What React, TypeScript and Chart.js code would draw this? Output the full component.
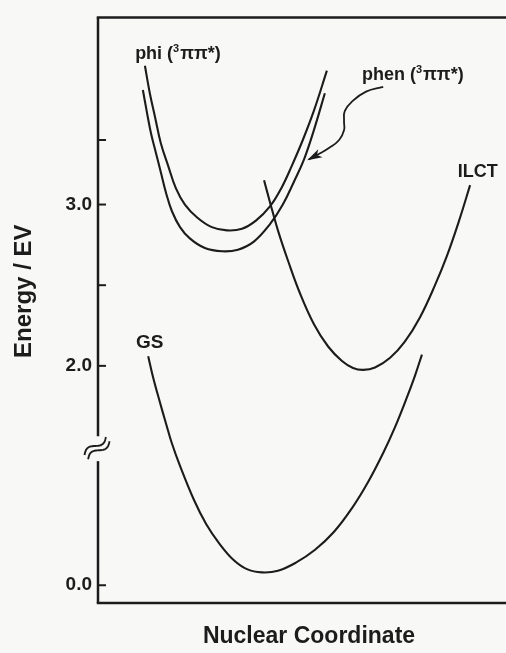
import { useEffect, useRef } from 'react';
import { Chart, registerables, LinearScale } from 'chart.js';

const FONT = '"Liberation Sans", Arial, Helvetica, sans-serif';
const INK = '#1c1c1c';
const PAPER = '#f8f8f7';

// Nuclear coordinate (arbitrary units, 0–10 across the plot) and energy in eV.
const PHI_X = [1.15, 1.27, 1.40, 1.54, 1.72, 1.91, 2.13, 2.43, 2.79, 3.16, 3.53, 3.87, 4.22, 4.49, 4.75, 5.02, 5.29, 5.61];
const PHI_E = [3.86, 3.69, 3.54, 3.38, 3.24, 3.10, 3.00, 2.92, 2.86, 2.84, 2.85, 2.90, 2.99, 3.10, 3.24, 3.40, 3.58, 3.83];

const PHEN_X = [1.10, 1.20, 1.30, 1.42, 1.54, 1.67, 1.81, 2.01, 2.25, 2.62, 3.04, 3.43, 3.82, 4.22, 4.53, 4.80, 5.05, 5.29, 5.56];
const PHEN_E = [3.71, 3.57, 3.44, 3.32, 3.20, 3.07, 2.96, 2.86, 2.79, 2.73, 2.71, 2.72, 2.77, 2.88, 3.00, 3.14, 3.28, 3.46, 3.69];

const ILCT_X = [4.07, 4.22, 4.41, 4.66, 4.95, 5.29, 5.64, 5.98, 6.25, 6.50, 6.79, 7.16, 7.52, 7.89, 8.26, 8.55, 8.85, 9.12];
const ILCT_E = [3.15, 3.01, 2.84, 2.65, 2.45, 2.26, 2.12, 2.03, 1.987, 1.975, 1.99, 2.05, 2.15, 2.30, 2.50, 2.68, 2.90, 3.12];

const GS_X = [1.23, 1.35, 1.50, 1.67, 1.81, 2.01, 2.35, 2.65, 2.97, 3.31, 3.65, 4.02, 4.41, 4.85, 5.32, 5.78, 6.23, 6.62, 6.99, 7.28, 7.55, 7.77, 7.94];
const GS_E = [2.06, 1.93, 1.79, 1.64, 1.52, 0.74, 0.53, 0.38, 0.26, 0.16, 0.10, 0.08, 0.09, 0.14, 0.22, 0.33, 0.48, 0.64, 0.82, 1.62, 1.79, 1.94, 2.07];

// Wavy pointer from the "phen" label to its curve.
const ARROW_X = [6.99, 6.57, 6.23, 6.05, 6.03, 6.03, 5.91, 5.66, 5.39, 5.17];
const ARROW_E = [3.73, 3.70, 3.64, 3.58, 3.52, 3.46, 3.40, 3.35, 3.31, 3.28];

const Y_TICKS = [0, 2.0, 2.5, 3.0, 3.4];
const Y_TICK_LABELS = ['0.0', '2.0', '', '3.0', ''];
const Y_MIN = -0.11;
const Y_MAX = 4.16;

// The energy axis is broken between these two values.
const BREAK_LO = 0.85;
const BREAK_HI = 1.49;
const BREAK_GAP = BREAK_HI - BREAK_LO;

const toDisplay = (v: number) => (v <= BREAK_LO ? v : v >= BREAK_HI ? v - BREAK_GAP : BREAK_LO);
const fromDisplay = (d: number) => (d <= BREAK_LO ? d : d + BREAK_GAP);

class BrokenLinearScale extends LinearScale {
  static id = 'brokenLinear';
  determineDataLimits() {
    super.determineDataLimits();
    this.min = toDisplay(this.min);
    this.max = toDisplay(this.max);
  }
  getPixelForValue(value: number) {
    return super.getPixelForValue(toDisplay(value));
  }
  getValueForPixel(pixel: number) {
    return fromDisplay(super.getValueForPixel(pixel));
  }
}

Chart.register(...registerables, BrokenLinearScale);

type Part = { text: string; sup?: boolean };
const LABELS: { parts: Part[]; x: number; e: number; size: number }[] = [
  { parts: [{ text: 'phi (' }, { text: '3', sup: true }, { text: 'ππ*)' }], x: 0.91, e: 3.9, size: 18 },
  { parts: [{ text: 'phen (' }, { text: '3', sup: true }, { text: 'ππ*)' }], x: 6.47, e: 3.77, size: 18 },
  { parts: [{ text: 'ILCT' }], x: 8.82, e: 3.17, size: 18 },
  { parts: [{ text: 'GS' }], x: 0.93, e: 2.11, size: 19 },
];

const pts = (xs: number[], es: number[]) => xs.map((x, i) => ({ x, y: es[i] }));

function drawRich(ctx: CanvasRenderingContext2D, parts: Part[], x: number, y: number, size: number) {
  let cx = x;
  for (const p of parts) {
    const fs = p.sup ? Math.round(size * 0.62) : size;
    ctx.font = `bold ${fs}px ${FONT}`;
    ctx.fillText(p.text, cx, p.sup ? y - size * 0.42 : y);
    cx += ctx.measureText(p.text).width + (p.sup ? 1 : 0);
  }
}

const decorations = {
  id: 'decorations',
  beforeDraw(chart: any) {
    const { ctx, width, height } = chart;
    ctx.save();
    ctx.fillStyle = PAPER;
    ctx.fillRect(0, 0, width, height);
    ctx.restore();
  },
  afterDraw(chart: any) {
    const { ctx, chartArea: a, scales } = chart;
    const xs = scales.x;
    const ys = scales.y;
    const seg = (x1: number, y1: number, x2: number, y2: number) => {
      ctx.beginPath();
      ctx.moveTo(x1, y1);
      ctx.lineTo(x2, y2);
      ctx.stroke();
    };
    ctx.save();
    ctx.strokeStyle = INK;
    ctx.fillStyle = INK;
    ctx.lineCap = 'butt';

    // frame: top rule, bottom axis, broken left axis
    const brk = ys.getPixelForValue(BREAK_LO);
    ctx.lineWidth = 2.5;
    seg(a.left - 1.25, a.top, a.right, a.top);
    seg(a.left - 1.25, a.bottom, a.right, a.bottom);
    seg(a.left, a.top, a.left, brk - 12);
    seg(a.left, brk + 13, a.left, a.bottom);

    // inward tick marks
    ctx.lineWidth = 2;
    for (const t of ys.ticks) {
      const py = ys.getPixelForValue(t.value);
      seg(a.left, py, a.left + 8, py);
    }

    // axis break symbol
    const ang = -0.7;
    const ux = Math.cos(ang), uy = Math.sin(ang);
    const nx = -uy, ny = ux;
    ctx.lineWidth = 1.9;
    for (const k of [-1, 1]) {
      ctx.beginPath();
      for (let i = 0; i <= 24; i++) {
        const t = -1 + i / 12;
        const w = k * 2.8 + 3.4 * Math.sin(Math.PI * t);
        const px = a.left - 1 + ux * t * 14 + nx * w;
        const py = brk + uy * t * 14 + ny * w;
        if (i === 0) ctx.moveTo(px, py);
        else ctx.lineTo(px, py);
      }
      ctx.stroke();
    }

    // arrowhead at the end of the pointer
    const n = ARROW_X.length;
    const tx = xs.getPixelForValue(ARROW_X[n - 1]);
    const ty = ys.getPixelForValue(ARROW_E[n - 1]);
    const bx = xs.getPixelForValue(ARROW_X[n - 2]);
    const by = ys.getPixelForValue(ARROW_E[n - 2]);
    const th = Math.atan2(ty - by, tx - bx);
    const L = 13, W = 4.5;
    ctx.beginPath();
    ctx.moveTo(tx + Math.cos(th) * 2, ty + Math.sin(th) * 2);
    ctx.lineTo(tx - Math.cos(th) * L - Math.sin(th) * W, ty - Math.sin(th) * L + Math.cos(th) * W);
    ctx.lineTo(tx - Math.cos(th) * L * 0.7, ty - Math.sin(th) * L * 0.7);
    ctx.lineTo(tx - Math.cos(th) * L + Math.sin(th) * W, ty - Math.sin(th) * L - Math.cos(th) * W);
    ctx.closePath();
    ctx.fill();

    // curve labels
    ctx.textBaseline = 'alphabetic';
    ctx.textAlign = 'left';
    for (const l of LABELS) {
      drawRich(ctx, l.parts, xs.getPixelForValue(l.x), ys.getPixelForValue(l.e), l.size);
    }

    // axis titles
    ctx.textAlign = 'center';
    ctx.textBaseline = 'middle';
    ctx.font = `bold 23px ${FONT}`;
    ctx.fillText('Nuclear Coordinate', (a.left + a.right) / 2 + 7, a.bottom + 34);
    ctx.save();
    ctx.translate(24, (a.top + a.bottom) / 2 - 19);
    ctx.rotate(-Math.PI / 2);
    ctx.font = `bold 24px ${FONT}`;
    ctx.fillText('Energy / EV', 0, 0);
    ctx.restore();

    ctx.restore();
  },
};

export default function App() {
  const ref = useRef<HTMLCanvasElement>(null);

  useEffect(() => {
    if (!ref.current) return;
    const line = {
      borderColor: INK,
      borderWidth: 2.1,
      pointRadius: 0,
      fill: false,
      tension: 0.4,
    };
    const chart = new Chart(ref.current, {
      type: 'line',
      data: {
        datasets: [
          { label: 'phi (3ππ*)', data: pts(PHI_X, PHI_E), ...line },
          { label: 'phen (3ππ*)', data: pts(PHEN_X, PHEN_E), ...line },
          { label: 'ILCT', data: pts(ILCT_X, ILCT_E), ...line },
          { label: 'GS', data: pts(GS_X, GS_E), ...line },
          {
            label: 'pointer',
            data: pts(ARROW_X, ARROW_E),
            borderColor: INK,
            borderWidth: 1.8,
            pointRadius: 0,
            fill: false,
            tension: 0.45,
          },
        ],
      },
      options: {
        responsive: true,
        maintainAspectRatio: false,
        animation: false,
        events: [],
        layout: { padding: { top: 15, left: 0, right: 0, bottom: 0 } },
        plugins: { legend: { display: false }, tooltip: { enabled: false } },
        scales: {
          x: {
            type: 'linear',
            min: 0,
            max: 10,
            bounds: 'data',
            ticks: { display: false },
            grid: { display: false, drawTicks: false },
            border: { display: false },
            afterFit: (s: any) => {
              s.height = 50;
            },
          },
          y: {
            type: 'brokenLinear' as any,
            position: 'left',
            min: Y_MIN,
            max: Y_MAX,
            bounds: 'data',
            afterBuildTicks: (s: any) => {
              s.ticks = Y_TICKS.map((value) => ({ value }));
            },
            ticks: {
              callback: (v: any) => {
                const i = Y_TICKS.indexOf(Number(v));
                return i >= 0 ? Y_TICK_LABELS[i] : '';
              },
              font: { family: FONT, size: 19, weight: 'bold' },
              color: INK,
              padding: 6,
            },
            grid: { display: false, drawTicks: false },
            border: { display: false },
            afterFit: (s: any) => {
              s.width = 98;
            },
          },
        },
      },
      plugins: [decorations],
    } as any);
    return () => chart.destroy();
  }, []);

  return (
    <div style={{ position: 'fixed', left: 0, top: 0, width: 506, height: 653 }}>
      <canvas ref={ref} />
    </div>
  );
}
